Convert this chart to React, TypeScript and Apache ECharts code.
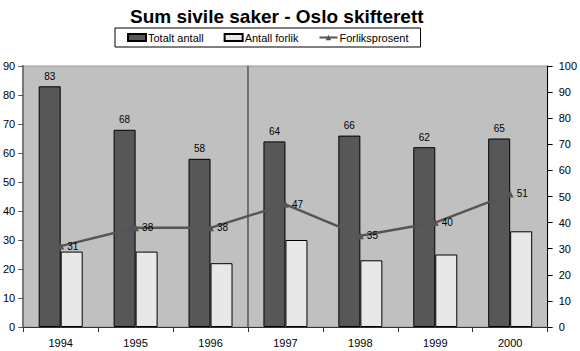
import React, { useEffect, useRef } from "react";
import * as echarts from "echarts";

const years = ["1994", "1995", "1996", "1997", "1998", "1999", "2000"];
const totaltAntall = [83, 68, 58, 64, 66, 62, 65];
const antallForlik = [26, 26, 22, 30, 23, 25, 33];
const forliksprosent = [31, 38, 38, 47, 35, 40, 51];
const dividerLine = [[3, 0], [3, 90]];

export default function App() {
  const ref = useRef<HTMLDivElement>(null);
  useEffect(() => {
    if (!ref.current) return;
    const chart = echarts.init(ref.current, undefined, { renderer: "svg" });
    const font = "Liberation Sans, Arial, sans-serif";
    chart.setOption({
      animation: false,
      backgroundColor: "#ffffff",
      textStyle: { fontFamily: font },
      title: {
        text: "Sum sivile saker - Oslo skifterett",
        left: 125,
        top: 2,
        textStyle: { fontSize: 19, fontWeight: "bold", color: "#000", fontFamily: font },
      },
      legend: {
        data: [
          { name: "Totalt antall", icon: "rect" },
          { name: "Antall forlik", icon: "rect" },
          { name: "Forliksprosent" },
        ],
        left: 115,
        top: 28,
        borderColor: "#000",
        borderWidth: 1,
        padding: [4, 12, 4, 12],
        itemGap: 20,
        itemWidth: 18,
        itemHeight: 7,
        textStyle: { fontSize: 11, color: "#000", fontFamily: font, padding: [0, 0, 0, -3] },
      },
      grid: {
        left: 21,
        right: 28,
        top: 66,
        bottom: 24,
        show: true,
        backgroundColor: "#c0c0c0",
        borderColor: "#999",
        borderWidth: 1,
      },
      xAxis: [
        {
          type: "category",
          data: years,
          axisLine: { show: true, lineStyle: { color: "#333", width: 1 } },
          axisTick: { show: true, interval: 0, length: 5, lineStyle: { color: "#333" } },
          axisLabel: { fontSize: 11, color: "#000", margin: 10, fontFamily: font },
        },
        { type: "value", min: 0, max: 7, show: false },
      ],
      yAxis: [
        {
          type: "value",
          min: 0,
          max: 90,
          interval: 10,
          position: "left",
          splitLine: { show: false },
          axisLine: { show: true, lineStyle: { color: "#777", width: 2 } },
          axisTick: { show: true, length: 5, lineStyle: { color: "#555" } },
          axisLabel: { fontSize: 11, color: "#000", margin: 8, fontFamily: font },
        },
        {
          type: "value",
          min: 0,
          max: 100,
          interval: 10,
          position: "right",
          splitLine: { show: false },
          axisLine: { show: true, lineStyle: { color: "#000", width: 1 } },
          axisTick: { show: true, length: 5, lineStyle: { color: "#000" } },
          axisLabel: { fontSize: 11, color: "#000", margin: 11, fontFamily: font },
        },
      ],
      series: [
        {
          name: "Totalt antall",
          type: "bar",
          data: totaltAntall,
          barWidth: 22,
          barGap: "0%",
          itemStyle: { color: "#575757", borderColor: "#000", borderWidth: 1 },
          label: { show: true, position: "top", fontSize: 10, color: "#000", distance: 5, fontFamily: font },
        },
        {
          name: "Antall forlik",
          type: "bar",
          data: antallForlik,
          barWidth: 22,
          barGap: "0%",
          itemStyle: { color: "#e8e8e8", borderColor: "#000", borderWidth: 1 },
        },
        {
          name: "Forliksprosent",
          type: "line",
          yAxisIndex: 1,
          data: forliksprosent,
          symbol: "triangle",
          symbolSize: 7,
          itemStyle: { color: "#555" },
          lineStyle: { color: "#555", width: 2.5 },
          label: { show: true, position: "right", fontSize: 10, color: "#000", distance: 3, fontFamily: font },
          z: 5,
        },
        {
          name: "divider",
          type: "line",
          xAxisIndex: 1,
          yAxisIndex: 0,
          data: dividerLine,
          symbol: "none",
          lineStyle: { color: "#555", width: 1.5 },
          silent: true,
          z: 1,
        },
      ],
    });
    return () => chart.dispose();
  }, []);
  return (
    <div
      ref={ref}
      style={{ position: "fixed", left: 0, top: 0, width: 580, height: 351 }}
    />
  );
}
